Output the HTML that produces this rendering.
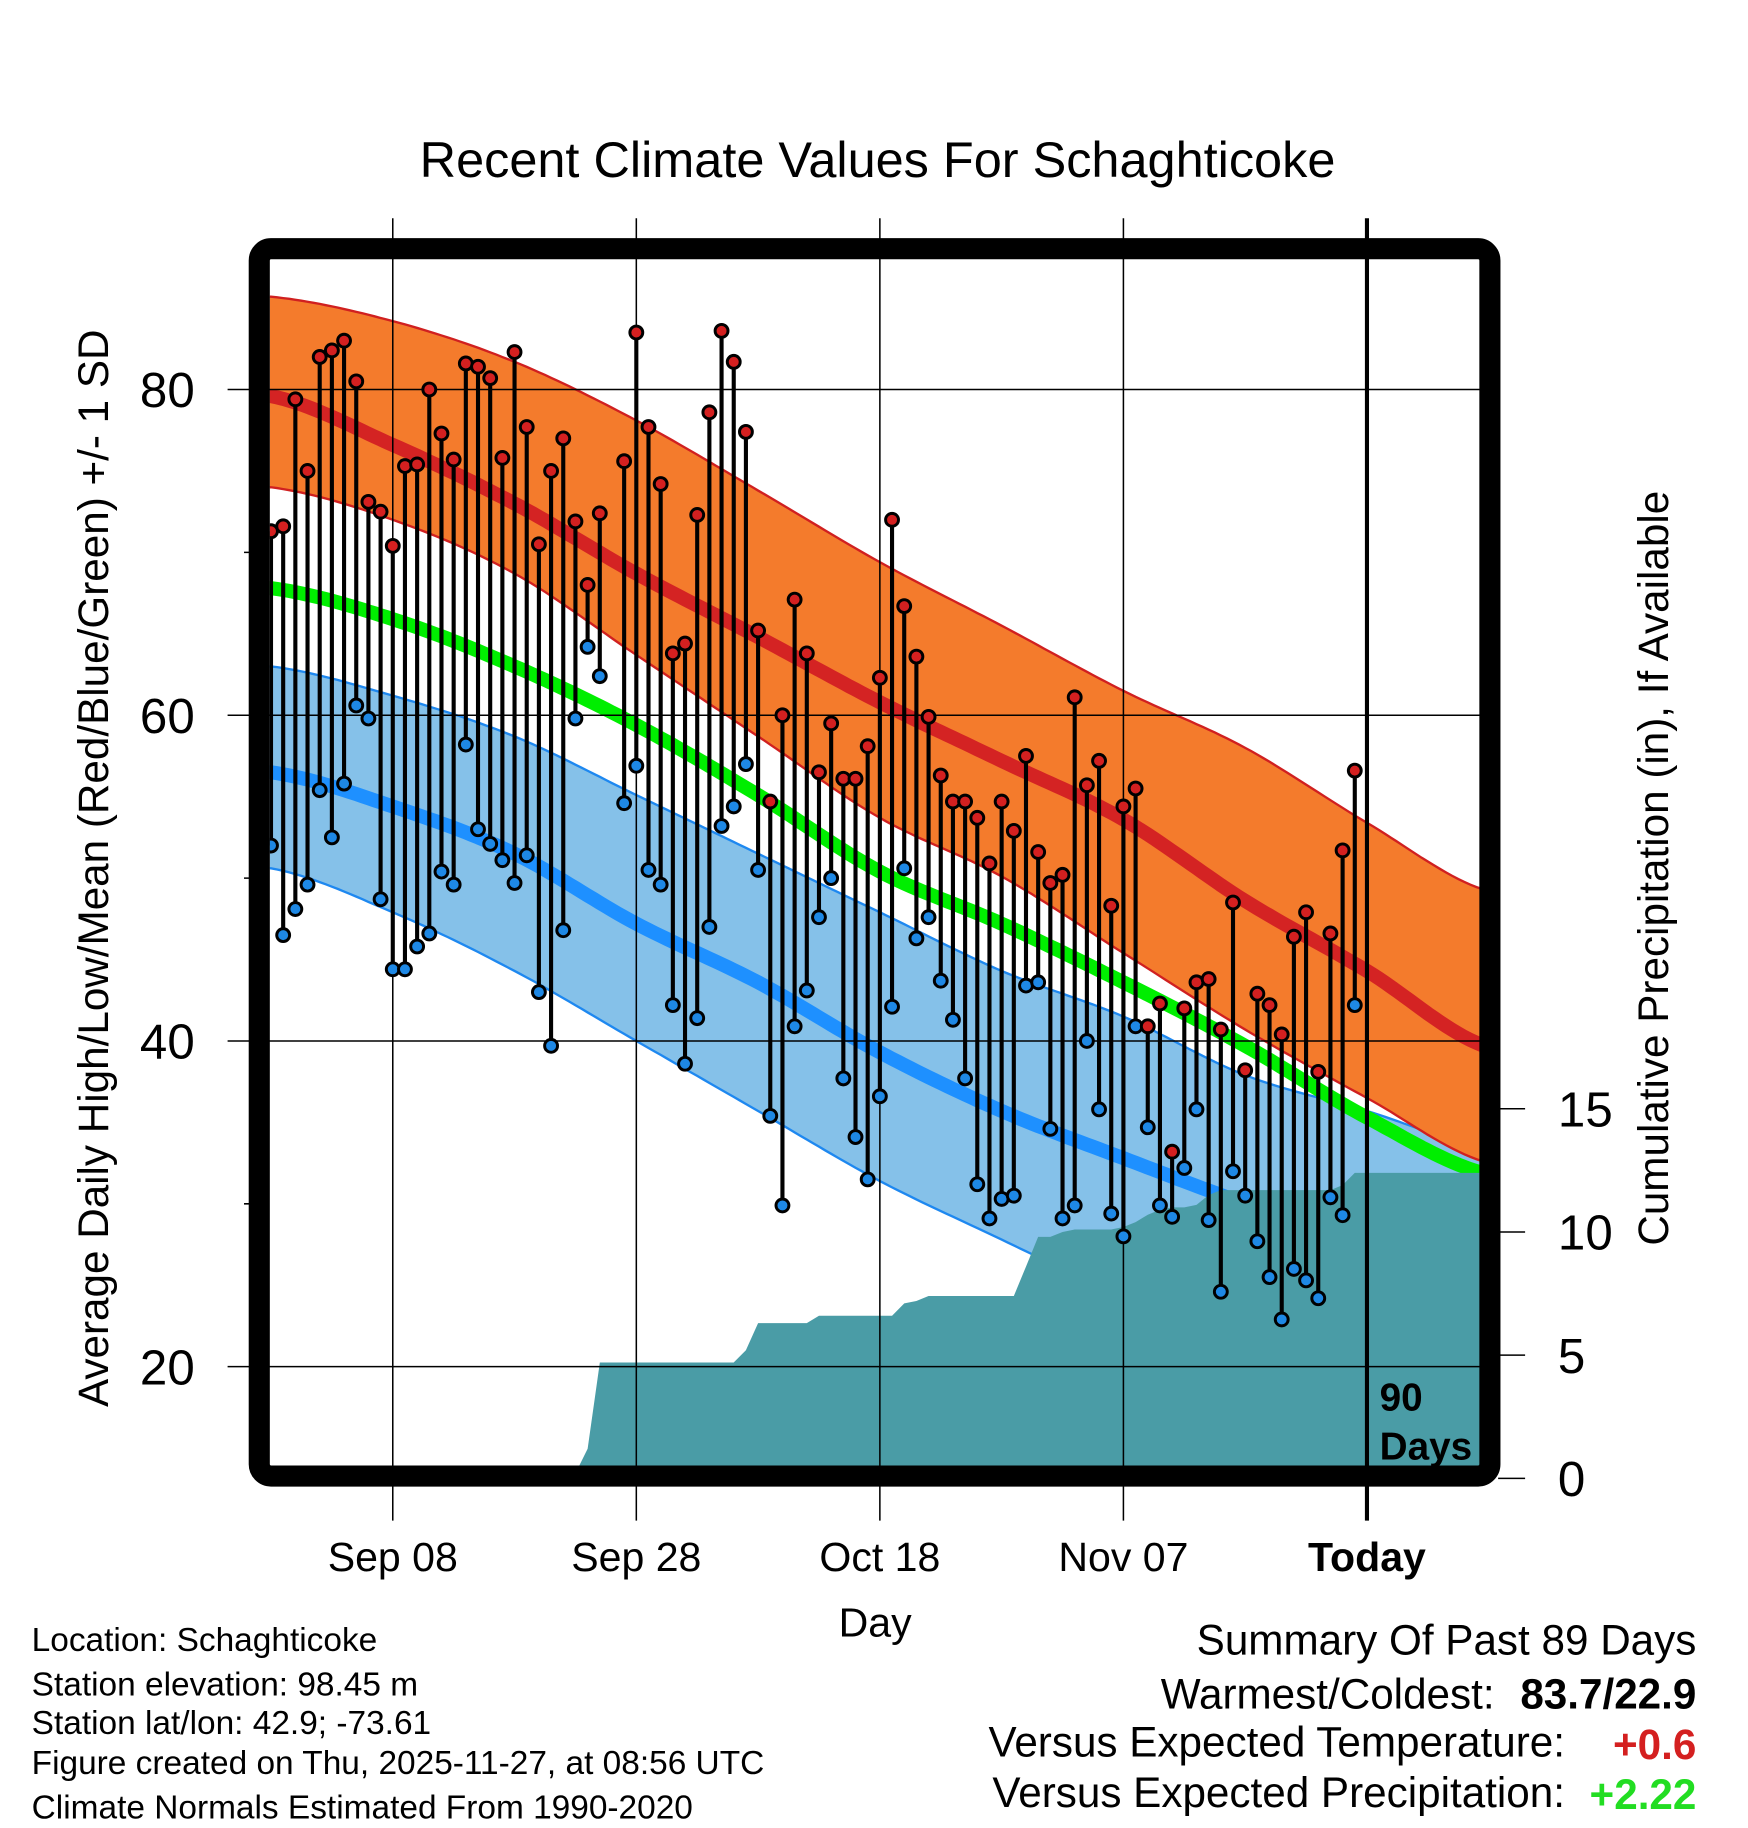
<!DOCTYPE html>
<html><head><meta charset="utf-8"><style>
html,body{margin:0;padding:0;background:#fff;}
svg{display:block;font-family:"Liberation Sans",sans-serif;}
</style></head><body>
<svg id="chart" width="1748" height="1828" viewBox="0 0 1490 1558" preserveAspectRatio="none" xmlns="http://www.w3.org/2000/svg">
<defs><clipPath id="plotclip"><rect x="230" y="222" width="1032" height="1029"/></clipPath></defs>
<rect width="1490" height="1558" fill="#fff"/>
<text x="748" y="151" font-size="43" text-anchor="middle">Recent Climate Values For Schaghticoke</text>
<g id="bands" clip-path="url(#plotclip)"></g>
<g id="grid"></g>
<g id="marks" clip-path="url(#plotclip)"></g>
<rect x="221" y="212" width="1049" height="1046" rx="10" fill="none" stroke="#000" stroke-width="18"/>
<g id="axes"></g>
<text x="1176" y="1202" font-size="33" font-weight="bold">90</text>
<text x="1176" y="1244" font-size="33" font-weight="bold">Days</text>
<text transform="translate(92,740) rotate(-90)" font-size="36" text-anchor="middle">Average Daily High/Low/Mean (Red/Blue/Green) +/- 1 SD</text>
<text transform="translate(1422,740) rotate(-90)" font-size="36" text-anchor="middle">Cumulative Precipitation (in), If Available</text>
<text x="746" y="1395" font-size="35" text-anchor="middle">Day</text>
<g font-size="28.5">
<text x="27" y="1407">Location: Schaghticoke</text>
<text x="27" y="1445">Station elevation: 98.45 m</text>
<text x="27" y="1478">Station lat/lon: 42.9; -73.61</text>
<text x="27" y="1512">Figure created on Thu, 2025-11-27, at 08:56 UTC</text>
<text x="27" y="1550">Climate Normals Estimated From 1990-2020</text>
</g>
<g font-size="36" text-anchor="end">
<text x="1446" y="1410">Summary Of Past 89 Days</text>
<text x="1274" y="1456">Warmest/Coldest:</text>
<text x="1446" y="1456" font-weight="bold">83.7/22.9</text>
<text x="1334" y="1497">Versus Expected Temperature:</text>
<text x="1446" y="1499" font-weight="bold" fill="#d42020">+0.6</text>
<text x="1334" y="1540">Versus Expected Precipitation:</text>
<text x="1446" y="1542" font-weight="bold" fill="#22dd22">+2.22</text>
</g>
</svg>
<script>
const highs=[71.3,71.6,79.4,75.0,82.0,82.4,83.0,80.5,73.1,72.5,70.4,75.3,75.4,80.0,77.3,75.7,81.6,81.4,80.7,75.8,82.3,77.7,70.5,75.0,77.0,71.9,68.0,72.4,null,75.6,83.5,77.7,74.2,63.8,64.4,72.3,78.6,83.6,81.7,77.4,65.2,54.7,60.0,67.1,63.8,56.5,59.5,56.1,56.1,58.1,62.3,72.0,66.7,63.6,59.9,56.3,54.7,54.7,53.7,50.9,54.7,52.9,57.5,51.6,49.7,50.2,61.1,55.7,57.2,48.3,54.4,55.5,40.9,42.3,33.2,42.0,43.6,43.8,40.7,48.5,38.2,42.9,42.2,40.4,46.4,47.9,38.1,46.6,51.7,56.6];
const lows=[52.0,46.5,48.1,49.6,55.4,52.5,55.8,60.6,59.8,48.7,44.4,44.4,45.8,46.6,50.4,49.6,58.2,53.0,52.1,51.1,49.7,51.4,43.0,39.7,46.8,59.8,64.2,62.4,null,54.6,56.9,50.5,49.6,42.2,38.6,41.4,47.0,53.2,54.4,57.0,50.5,35.4,29.9,40.9,43.1,47.6,50.0,37.7,34.1,31.5,36.6,42.1,50.6,46.3,47.6,43.7,41.3,37.7,31.2,29.1,30.3,30.5,43.4,43.6,34.6,29.1,29.9,40.0,35.8,29.4,28.0,40.9,34.7,29.9,29.2,32.2,35.8,29.0,24.6,32.0,30.5,27.7,25.5,22.9,26.0,25.3,24.2,30.4,29.3,42.2];
const precip=[0,0,0,0,0,0,0,0,0.1,0.1,0.1,0.1,0.1,0.1,0.1,0.1,0.1,0.1,0.1,0.1,0.1,0.1,0.1,0.1,0.1,0.2,1.2,4.7,4.7,4.7,4.7,4.7,4.7,4.7,4.7,4.7,4.7,4.7,4.7,5.2,6.3,6.3,6.3,6.3,6.3,6.6,6.6,6.6,6.6,6.6,6.6,6.6,7.1,7.2,7.4,7.4,7.4,7.4,7.4,7.4,7.4,7.4,8.6,9.8,9.8,10.0,10.1,10.1,10.1,10.1,10.2,10.4,10.7,10.9,11.0,11.0,11.1,11.5,11.7,11.7,11.7,11.7,11.7,11.7,11.7,11.7,11.7,11.7,11.9,12.4];
const normDays=[0,10,20,30,40,50,60,70,80,90,100];
const hiMean=[79.6,76.6,73.0,68.7,64.8,60.8,57.2,53.6,48.6,44.3,39.6];
const hiUpper=[85.7,84.2,81.7,78.1,73.8,69.4,65.5,61.5,58.0,53.4,49.2];
const hiLower=[74.0,72.0,68.7,63.7,58.7,53.7,50.1,45.4,40.7,36.5,32.5];
const avgMean=[67.8,65.9,63.0,59.4,55.1,50.4,47.2,43.6,39.7,35.3,31.8];
const loMean=[56.5,54.4,51.5,47.2,43.6,39.3,35.7,32.8,30.0,27.5,24.7];
const loUpper=[63.0,61.2,58.7,55.1,51.5,47.9,44.3,41.5,37.9,35.7,33.4];
const loLower=[50.6,47.9,44.3,40.0,35.7,31.4,27.8,24.2,20.6,17.8,14.6];
const tempTicks=[20,40,60,80];
const minorTicks=[30,50,70];
const precipTicks=[0,5,10,15];
const dateLabels=["Sep 08","Sep 28","Oct 18","Nov 07","Today"];
const dateIdx=[10,30,50,70,90];

const NS="http://www.w3.org/2000/svg";
const X=i=>231+10.38*i;
const Y=v=>332+(80-v)*13.88;
const P=v=>1260-v*21;
function mk(tag,attrs,parent){const e=document.createElementNS(NS,tag);for(const k in attrs)e.setAttribute(k,attrs[k]);parent.appendChild(e);return e;}
function interp(arr,d){
  let k=Math.min(Math.floor(d/10),arr.length-2);const t=(d-normDays[k])/10;
  const p0=arr[Math.max(k-1,0)],p1=arr[k],p2=arr[k+1],p3=arr[Math.min(k+2,arr.length-1)];
  return 0.5*((2*p1)+(-p0+p2)*t+(2*p0-5*p1+4*p2-p3)*t*t+(-p0+3*p1-3*p2+p3)*t*t*t);
}
function curvePts(arr){const pts=[];for(let d=-1;d<=100;d+=0.5)pts.push([X(d),Y(interp(arr,Math.max(d,0)))]);return pts;}
function line(pts){return pts.map((p,i)=>(i?'L':'M')+p[0].toFixed(1)+','+p[1].toFixed(1)).join('');}
function band(up,lo){const a=curvePts(up),b=curvePts(lo).reverse();return line(a)+b.map(p=>'L'+p[0].toFixed(1)+','+p[1].toFixed(1)).join('')+'Z';}

const bands=document.getElementById('bands');
let e;
e=mk('path',{d:band(loUpper,loLower),fill:'#85c1e9',stroke:'#1e88f0','stroke-width':2},bands);


e=mk('path',{d:band(hiUpper,hiLower),fill:'#f47b2c',stroke:'#d02020','stroke-width':2},bands);


e=mk('path',{d:line(curvePts(avgMean)),fill:'none',stroke:'#00ee00','stroke-width':12},bands);


e=mk('path',{d:line(curvePts(loMean)),fill:'none',stroke:'#1e90ff','stroke-width':12},bands);


e=mk('path',{d:line(curvePts(hiMean)),fill:'none',stroke:'#d42323','stroke-width':12},bands);


let pd='M'+X(0)+','+P(0);
precip.forEach((v,i)=>{pd+='L'+X(i).toFixed(1)+','+P(v).toFixed(1);});
pd+='L1265,'+P(precip[precip.length-1])+'L1265,'+P(0)+'Z';
e=mk('path',{d:pd,fill:'#4a9ca6'},bands);



const grid=document.getElementById('grid');
dateIdx.forEach((d,j)=>{
  e=mk('line',{x1:X(d),x2:X(d),y1:186,y2:1296,stroke:'#000','stroke-width':j==4?3.5:1.3},grid);
  
  
  e=mk('text',{x:X(d),y:1339,'font-size':35,'text-anchor':'middle','font-weight':j==4?'bold':'normal'},grid);
  e.textContent=dateLabels[j];
  
  
});
tempTicks.forEach(v=>{
  e=mk('line',{x1:194,x2:1262,y1:Y(v),y2:Y(v),stroke:'#000','stroke-width':1.3},grid);
  
  
  e=mk('text',{x:166,y:Y(v)+15,'font-size':42,'text-anchor':'end'},grid);
  e.textContent=v;
  
  
});
minorTicks.forEach(v=>{
  e=mk('line',{x1:208,x2:222,y1:Y(v),y2:Y(v),stroke:'#000','stroke-width':1.3},grid);
  
  
});

const marks=document.getElementById('marks');
highs.forEach((h,i)=>{
  const l=lows[i];if(h==null||l==null)return;
  e=mk('line',{x1:X(i),x2:X(i),y1:Y(h),y2:Y(l),stroke:'#000','stroke-width':3.5},marks);
  
  
});
highs.forEach((h,i)=>{
  if(h==null)return;
  e=mk('circle',{cx:X(i),cy:Y(h),r:5.5,fill:'#d42020',stroke:'#000','stroke-width':2.5},marks);
  
  
  e=mk('circle',{cx:X(i),cy:Y(lows[i]),r:5.5,fill:'#1e88e5',stroke:'#000','stroke-width':2.5},marks);
  
  
});

const axes=document.getElementById('axes');
precipTicks.forEach(v=>{
  e=mk('line',{x1:1277,x2:1300,y1:P(v),y2:P(v),stroke:'#000','stroke-width':1.3},axes);
  
  
  e=mk('text',{x:1328,y:P(v)+15,'font-size':42},axes);
  e.textContent=v;
  
  
});
</script>
</body></html>
